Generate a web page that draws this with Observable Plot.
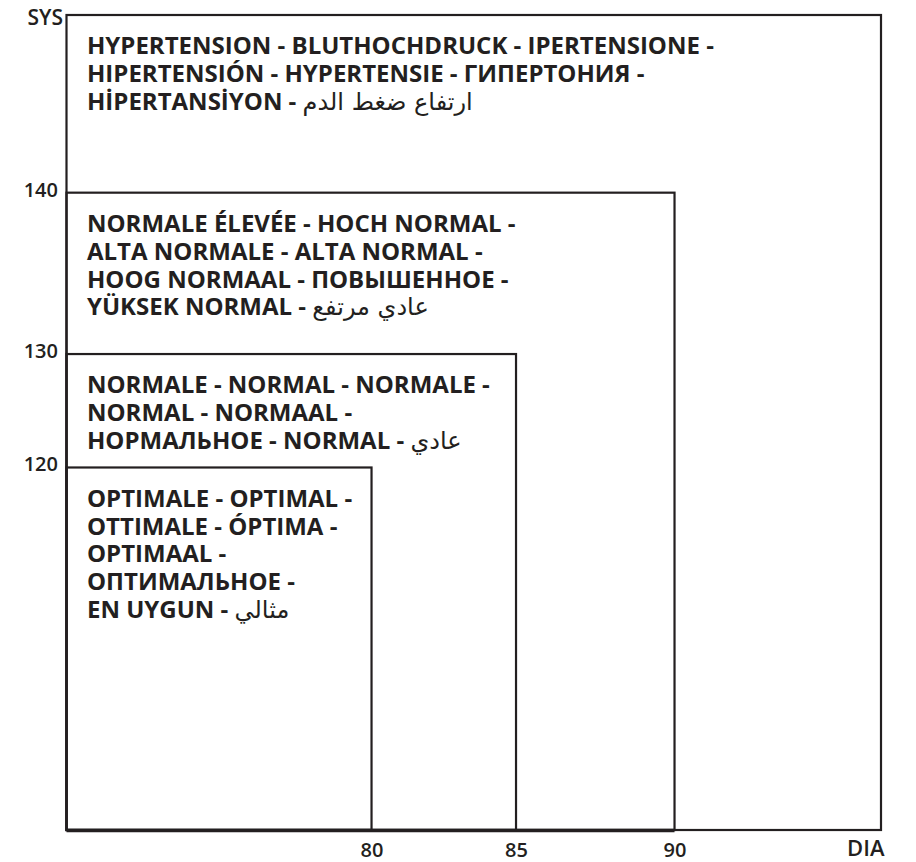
<!DOCTYPE html>
<html>
<head>
<meta charset="utf-8">
<script src="https://cdn.jsdelivr.net/npm/d3@7"></script>
<script src="https://cdn.jsdelivr.net/npm/@observablehq/plot@0.6"></script>
<style>
  html, body { margin: 0; padding: 0; background: #fff; }
  #chart svg { display: block; }
</style>
</head>
<body>
<div id="chart"></div>
<script>
// Blood pressure classes (nested zones starting at the chart origin)
const categories = ["hypertension", "high normal", "normal", "optimal"];
const diaUpper = [100, 90, 85, 80];     // DIA upper bound (100 = open end)
const sysUpper = [160, 140, 130, 120];  // SYS upper bound (160 = open end)
const diaOrigin = 60;
const sysOrigin = 100;
const labels = [
  "HYPERTENSION - BLUTHOCHDRUCK - IPERTENSIONE -\nHIPERTENSIÓN - HYPERTENSIE - ГИПЕРТОНИЯ -\nHİPERTANSİYON - ارتفاع ضغط الدم",
  "NORMALE ÉLEVÉE - HOCH NORMAL -\nALTA NORMALE - ALTA NORMAL -\nHOOG NORMAAL - ПОВЫШЕННОЕ -\nYÜKSEK NORMAL - عادي مرتفع",
  "NORMALE - NORMAL - NORMALE -\nNORMAL - NORMAAL -\nНОРМАЛЬНОЕ - NORMAL - عادي",
  "OPTIMALE - OPTIMAL -\nOTTIMALE - ÓPTIMA -\nOPTIMAAL -\nОПТИМАЛЬНОЕ -\nEN UYGUN - مثالي"
];
const xTicks = [80, 85, 90];
const yTicks = [120, 130, 140];
const xLabel = "DIA";
const yLabel = "SYS";

const zones = categories.map((c, i) => ({
  category: c, x1: diaOrigin, x2: diaUpper[i], y1: sysOrigin, y2: sysUpper[i], label: labels[i]
}));

// The schematic axes are not linear: piecewise scale transforms (scale options)
const diaWarp = d3.scaleLinear().domain([60, 80, 85, 90, 100]).range([0, 0.3745, 0.5519, 0.7465, 1]);
const sysWarp = d3.scaleLinear().domain([100, 120, 130, 140, 160]).range([0, 0.4448, 0.584, 0.782, 1]);

const ink = "#231f20";
const font = "'Open Sans', 'DejaVu Sans', sans-serif";

const chart = Plot.plot({
  width: 916,
  height: 862,
  margin: 0,
  style: {fontFamily: font, color: ink, background: "#fff"},
  x: {transform: diaWarp, domain: [0, 1], range: [66.5, 881], axis: null},
  y: {transform: sysWarp, domain: [0, 1], range: [830, 15], axis: null},
  marks: [
    Plot.rect(zones, {x1: "x1", x2: "x2", y1: "y1", y2: "y2", fill: "none", stroke: ink, strokeWidth: 2.2}),
    Plot.ruleY([sysOrigin], {x1: diaOrigin, x2: 90, stroke: ink, strokeWidth: 3.5}),
    Plot.text(zones, {x: "x1", y: "y2", text: "label", textAnchor: "start", lineAnchor: "top",
      dx: 20, dy: 19, fontSize: 24, fontWeight: "bold", lineHeight: 1.16, fill: ink}),
    Plot.text(yTicks, {x: diaOrigin, y: d => d, text: d => String(d), textAnchor: "end",
      dx: -9, dy: -3, fontSize: 20, fontWeight: 600, fill: ink}),
    Plot.text(xTicks, {x: d => d, y: sysOrigin, text: d => String(d), lineAnchor: "middle",
      dy: 20, fontSize: 20, fontWeight: 600, fill: ink}),
    Plot.text([yLabel], {x: diaOrigin, y: 160, text: d => d, textAnchor: "end",
      dx: -4, dy: 3, fontSize: 21, fontWeight: 600, fill: ink}),
    Plot.text([xLabel], {x: 100, y: sysOrigin, text: d => d, textAnchor: "end",
      dx: 3, dy: 18, fontSize: 22, fontWeight: 600, fill: ink})
  ]
});

// Arabic portions are set in regular weight as in the original:
// a sibling tspan (no x/dy) continues the same line after the Latin part.
const arabic = /[\u0600-\u06FF].*$/;
d3.select(chart).selectAll("tspan").each(function () {
  const t = this.textContent;
  const m = t.match(arabic);
  if (!m) return;
  this.textContent = t.slice(0, m.index);
  const sp = document.createElementNS("http://www.w3.org/2000/svg", "tspan");
  sp.setAttribute("font-weight", "normal");
  sp.setAttribute("font-family", "'DejaVu Sans', sans-serif");
  sp.textContent = m[0];
  this.parentNode.insertBefore(sp, this.nextSibling);
});

document.getElementById("chart").appendChild(chart);
</script>
</body>
</html>
